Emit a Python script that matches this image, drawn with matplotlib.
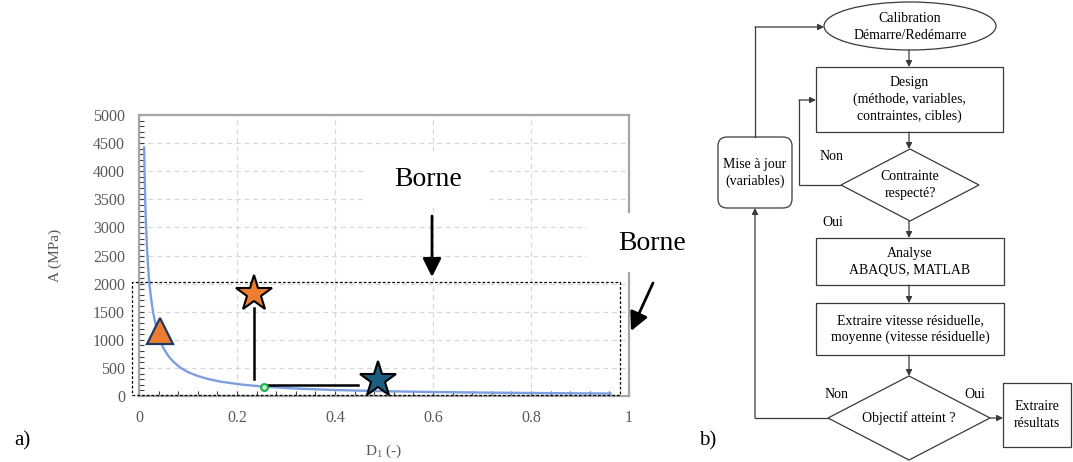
import matplotlib
matplotlib.use("Agg")
import matplotlib.pyplot as plt
from matplotlib.patches import Rectangle, Ellipse, FancyBboxPatch, Polygon
from matplotlib.ticker import MultipleLocator

plt.rcParams['font.family'] = ['Liberation Serif', 'DejaVu Serif']
plt.rcParams['mathtext.fontset'] = 'custom'
plt.rcParams['mathtext.rm'] = 'Liberation Serif'
plt.rcParams['mathtext.it'] = 'Liberation Serif:italic'

# ---------------- data (panel a) ----------------
curve_D = [0.0105, 0.0115, 0.0128, 0.014, 0.0155, 0.017, 0.019, 0.021, 0.025, 0.029,
           0.035, 0.042, 0.05, 0.06, 0.07, 0.085, 0.10, 0.12, 0.14, 0.166,
           0.21, 0.254, 0.32, 0.40, 0.50, 0.60, 0.70, 0.80, 0.90, 0.963]
curve_A = [4430, 3950, 3450, 3100, 2800, 2520, 2250, 2010, 1720, 1480,
           1230, 1020, 850, 710, 610, 500, 425, 355, 305, 256,
           203, 167, 133, 106, 85, 71, 61, 53, 47, 44]
triangle_D = [0.0423]
triangle_A = [1148]
star_orange_D = [0.2337]
star_orange_A = [1812]
star_blue_D = [0.488]
star_blue_A = [280]
green_D = [0.2544]
green_A = [163]
vline_D = [0.2348, 0.2348]
vline_A = [304, 1566]
hline_D = [0.254, 0.4465]
hline_A = [196, 196]
bound_D = [-0.015, 0.982]
bound_A = [25, 2030]
x_ticks = [0, 0.2, 0.4, 0.6, 0.8, 1]
x_tick_labels = ['0', '0.2', '0.4', '0.6', '0.8', '1']
y_ticks = [0, 500, 1000, 1500, 2000, 2500, 3000, 3500, 4000, 4500, 5000]
y_tick_labels = [str(v) for v in y_ticks]
x_label = r'D$_\mathregular{1}$ (-)'
y_label = 'A (MPa)'
bound_label = 'Borne'

# ---------------- data (panel b) ----------------
start_text = 'Calibration\nDémarre/Redémarre'
design_text = 'Design\n(méthode, variables,\ncontraintes, cibles)'
check_text = 'Contrainte\nrespecté?'
analyse_text = 'Analyse\nABAQUS, MATLAB'
extract_text = 'Extraire vitesse résiduelle,\nmoyenne (vitesse résiduelle)'
objective_text = 'Objectif atteint ?'
result_text = 'Extraire\nrésultats'
update_text = 'Mise à jour\n(variables)'
yes_label = 'Oui'
no_label = 'Non'

W, H = 1073, 462
fig = plt.figure(figsize=(W / 100, H / 100), dpi=100)

# ---------------- panel a ----------------
ax = fig.add_axes([139 / W, 1 - 396 / H, 490 / W, 281 / H])
ax.set_xlim(0, 1)
ax.set_ylim(0, 5000)
ax.set_axisbelow(True)
ax.grid(True, which='major', color='#d9d9d9', ls=(0, (4, 3)), lw=0.9)
for s in ax.spines.values():
    s.set_color('#a6a6a6')
    s.set_linewidth(1.6)
ax.set_xticks(x_ticks)
ax.set_xticklabels(x_tick_labels)
ax.set_yticks(y_ticks)
ax.set_yticklabels(y_tick_labels)
ax.xaxis.set_minor_locator(MultipleLocator(0.04))
ax.yaxis.set_minor_locator(MultipleLocator(100))
ax.tick_params(which='both', direction='in', color='#404040', length=3.5, width=0.8)
ax.tick_params(axis='y', which='major', pad=10, labelsize=11.5, labelcolor='#595959')
ax.tick_params(axis='x', which='major', pad=10, labelsize=11.5, labelcolor='#595959')
ax.set_xlabel(x_label, fontsize=11, color='#595959')
ax.set_ylabel(y_label, fontsize=11, color='#595959')
ax.xaxis.set_label_coords(0.5, -(443 - 396) / 281)
ax.yaxis.set_label_coords(-(139 - 62) / 490, 0.5)

ax.plot(curve_D, curve_A, color='#7b9fe0', lw=1.7, zorder=3,
        solid_capstyle='round', solid_joinstyle='round')
ax.add_patch(Rectangle((bound_D[0], bound_A[0]), bound_D[1] - bound_D[0],
                       bound_A[1] - bound_A[0], fill=False, ec='black',
                       ls=(0, (2.2, 1.6)), lw=0.9, clip_on=False, zorder=4))
ax.plot(vline_D, vline_A, color='black', lw=1.8, zorder=5)
ax.plot(hline_D, hline_A, color='black', lw=1.8, zorder=5)
ax.plot(green_D, green_A, 'o', ms=5, mfc='#b9f0c8', mec='#22b14c', mew=1.5, zorder=6)
ax.plot(triangle_D, triangle_A, '^', ms=19, mfc='#ed7d31', mec='#1f3864', mew=1.6,
        zorder=6, clip_on=False)
ax.plot(star_orange_D, star_orange_A, '*', ms=27, mfc='#ed7d31', mec='black', mew=1.5,
        zorder=6, clip_on=False)
ax.plot(star_blue_D, star_blue_A, '*', ms=27, mfc='#1b5e82', mec='black', mew=1.5,
        zorder=6, clip_on=False)

# ---------------- overlay (pixel coordinates) ----------------
ov = fig.add_axes([0, 0, 1, 1])
ov.set_xlim(0, W)
ov.set_ylim(H, 0)
ov.axis('off')

# Borne labels with white boxes
ov.add_patch(Rectangle((363, 155), 127, 50, fc='white', ec='none', zorder=2))
ov.text(428, 180, bound_label, fontsize=20, ha='center', va='center', zorder=3)
ov.add_patch(Rectangle((587, 213), 130, 59, fc='white', ec='none', zorder=2))
ov.text(652, 243, bound_label, fontsize=20, ha='center', va='center', zorder=3)

def big_arrow(p0, p1):
    ov.annotate('', xy=p1, xytext=p0,
                arrowprops=dict(arrowstyle='-|>', color='black', lw=2,
                                mutation_scale=28, shrinkA=0, shrinkB=0), zorder=4)

big_arrow((432, 216), (432, 277))
big_arrow((653, 283), (631, 331))

ov.text(22, 441, 'a)', fontsize=15, ha='center', va='center')
ov.text(708, 441, 'b)', fontsize=15, ha='center', va='center')

# ---------------- panel b: flowchart ----------------
LC = '#3a3a3a'
LW = 0.9
FS = 10

def farrow(p0, p1):
    ov.annotate('', xy=p1, xytext=p0,
                arrowprops=dict(arrowstyle='-|>', color=LC, lw=LW,
                                mutation_scale=9, shrinkA=0, shrinkB=0))

def poly_arrow(pts):
    xs = [p[0] for p in pts[:-1]]
    ys = [p[1] for p in pts[:-1]]
    ov.plot(xs, ys, color=LC, lw=LW, solid_joinstyle='miter')
    farrow(pts[-2], pts[-1])

def box(x0, y0, x1, y1, text):
    ov.add_patch(Rectangle((x0, y0), x1 - x0, y1 - y0, fc='white', ec=LC, lw=LW))
    ov.text((x0 + x1) / 2, (y0 + y1) / 2, text, fontsize=FS, ha='center', va='center',
            linespacing=1.35)

def diamond(cx, cy, hw, hh, text):
    ov.add_patch(Polygon([(cx, cy - hh), (cx + hw, cy), (cx, cy + hh), (cx - hw, cy)],
                         closed=True, fc='white', ec=LC, lw=LW))
    ov.text(cx, cy, text, fontsize=FS, ha='center', va='center', linespacing=1.35)

# start ellipse
ov.add_patch(Ellipse((910, 26), 172, 48, fc='white', ec=LC, lw=LW))
ov.text(910, 27, start_text, fontsize=FS, ha='center', va='center', linespacing=1.35)
farrow((909, 50), (909, 67))

box(816, 67, 1003, 132, design_text)
farrow((909, 132), (909, 149))

diamond(910, 185, 69, 36, check_text)
poly_arrow([(841, 185), (799, 185), (799, 100), (816, 100)])
ov.text(832, 157, no_label, fontsize=FS, ha='center', va='center')
ov.text(833, 222, yes_label, fontsize=FS, ha='center', va='center')
farrow((909, 221), (909, 238))

box(816, 238, 1004, 285, analyse_text)
farrow((909, 285), (909, 303))

box(816, 303, 1004, 355, extract_text)
farrow((909, 355), (909, 376))

diamond(909, 418, 81, 42, objective_text)
ov.text(837, 395, no_label, fontsize=FS, ha='center', va='center')
ov.text(975, 395, yes_label, fontsize=FS, ha='center', va='center')
farrow((990, 418), (1003, 418))

box(1003, 383, 1071, 447, result_text)

ov.add_patch(FancyBboxPatch((718, 137), 74, 71, boxstyle='round,pad=0,rounding_size=9',
                            fc='white', ec=LC, lw=LW))
ov.text(755, 173, update_text, fontsize=FS, ha='center', va='center', linespacing=1.35)
poly_arrow([(828, 418), (755, 418), (755, 208)])
poly_arrow([(755, 137), (755, 27), (824, 27)])

fig.savefig('out.png', dpi=100)
